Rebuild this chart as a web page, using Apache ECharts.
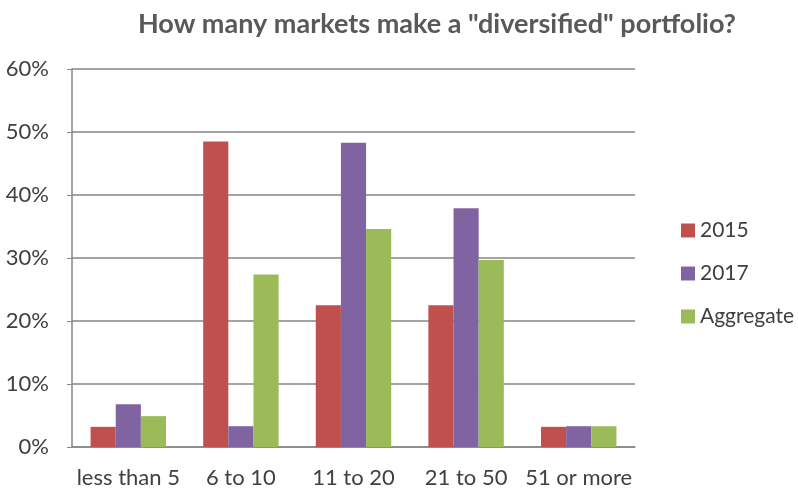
<!DOCTYPE html>
<html><head><meta charset="utf-8">
<script src="https://cdn.jsdelivr.net/npm/echarts@6/dist/echarts.min.js"></script>
<style>html,body{margin:0;padding:0;background:#fff}#c{width:798px;height:492px}</style>
</head><body><div id="c"></div>
<script>
const categories = ["less than 5", "6 to 10", "11 to 20", "21 to 50", "51 or more"];
const s2015 = [3.2, 48.5, 22.5, 22.5, 3.2];
const s2017 = [6.8, 3.3, 48.3, 37.9, 3.3];
const sAggregate = [4.9, 27.4, 34.6, 29.7, 3.3];
const yTicks = [0, 10, 20, 30, 40, 50, 60];

const font = "Lato, 'Open Sans', sans-serif";
const chart = echarts.init(document.getElementById('c'));
chart.setOption({
  animation: false,
  title: { text: 'How many markets make a "diversified" portfolio?', left: 432, textAlign: 'center', top: 6,
    textStyle: { fontFamily: font, fontSize: 27, fontWeight: 'bold', color: '#595959' } },
  legend: { orient: 'vertical', left: 676, top: 215, itemGap: 22, itemWidth: 14, itemHeight: 14, icon: 'rect',
    textStyle: { fontFamily: font, fontSize: 21, color: '#404040' } },
  grid: { left: 72, right: 163, top: 69, bottom: 45 },
  xAxis: { type: 'category', data: categories,
    axisLine: { lineStyle: { color: '#868686', width: 1.5 } }, axisTick: { show: false },
    axisLabel: { interval: 0, fontFamily: font, fontSize: 22, color: '#404040', margin: 20 } },
  yAxis: { type: 'value', min: yTicks[0], max: yTicks[yTicks.length-1], interval: 10,
    axisLine: { show: true, lineStyle: { color: '#868686', width: 1.5 } },
    axisTick: { show: true, length: 5, lineStyle: { color: '#868686' } },
    splitLine: { lineStyle: { color: '#868686', width: 1.5 } },
    axisLabel: { fontFamily: font, fontSize: 22, color: '#404040', margin: 23, formatter: v => v + '%' } },
  series: [
    { name: '2015', type: 'bar', data: s2015, itemStyle: { color: '#C0504D' }, barGap: '0%', barCategoryGap: '33%' },
    { name: '2017', type: 'bar', data: s2017, itemStyle: { color: '#8064A2' } },
    { name: 'Aggregate', type: 'bar', data: sAggregate, itemStyle: { color: '#9BBB59' } }
  ]
});
</script></body></html>
